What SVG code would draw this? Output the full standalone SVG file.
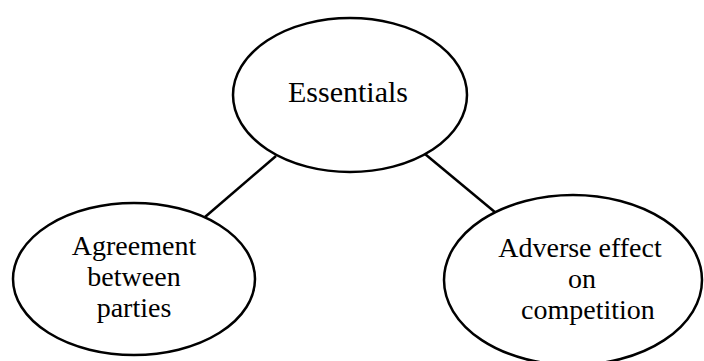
<svg xmlns="http://www.w3.org/2000/svg" width="704" height="361" viewBox="0 0 704 361">
  <style>
    .node ellipse { fill: #ffffff; stroke: #000000; stroke-width: 2.5; }
    .node text { font-family: "Liberation Serif", "Times New Roman", serif; font-size: 28px; fill: #000000; text-anchor: middle; }
    .node text.big { font-size: 30px; }
    .edge { stroke: #000000; stroke-width: 2.5; fill: none; }
  </style>
  <rect width="704" height="361" fill="#ffffff"/>
  <!-- connectors -->
  <g id="connectors">
    <line class="edge" x1="276" y1="156" x2="205" y2="217"/>
    <line class="edge" x1="425" y1="154" x2="496" y2="213"/>
  </g>
  <!-- root node -->
  <g id="essentials" class="node">
    <ellipse cx="350" cy="95" rx="117" ry="77"/>
    <text class="big" x="348" y="102">Essentials</text>
  </g>
  <!-- left child -->
  <g id="agreement" class="node">
    <ellipse cx="134" cy="279" rx="121" ry="76"/>
    <text x="134" y="255">Agreement</text>
    <text x="134" y="286">between</text>
    <text x="134" y="317">parties</text>
  </g>
  <!-- right child -->
  <g id="adverse-effect" class="node">
    <ellipse cx="573" cy="280" rx="129" ry="85"/>
    <text x="580" y="257">Adverse effect</text>
    <text x="582" y="288">on</text>
    <text x="588" y="319">competition</text>
  </g>
</svg>
